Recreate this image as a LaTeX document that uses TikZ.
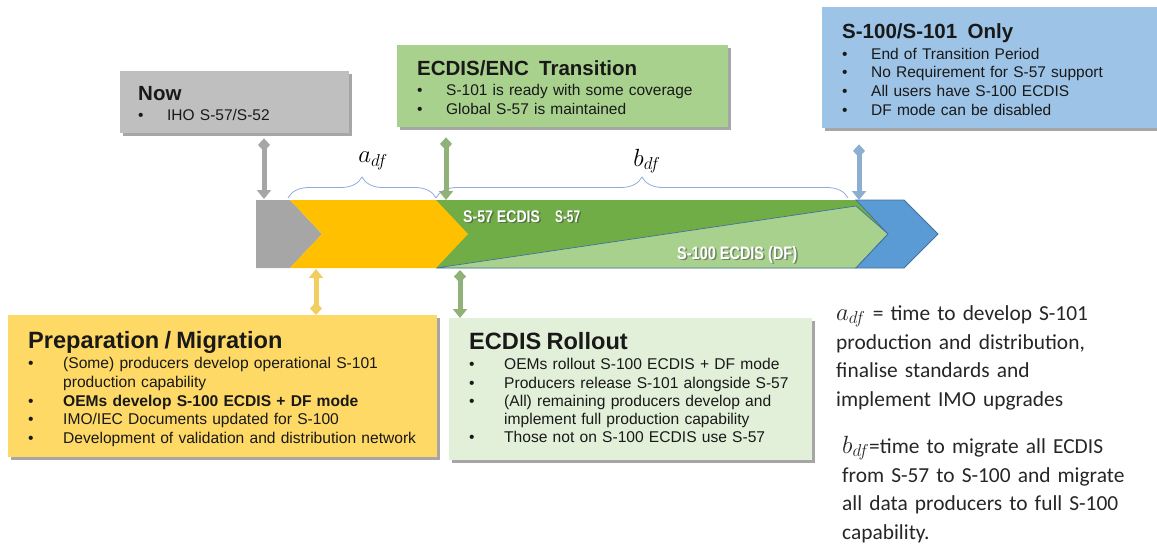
\documentclass[tikz,border=0pt]{standalone}
\usepackage{fontspec}
\usepackage{graphicx}
\setmainfont{Liberation Sans}
\newfontfamily\calibfont{Carlito}
\usetikzlibrary{arrows.meta,shadows,decorations.pathreplacing}

\definecolor{nowgrey}{HTML}{BFBFBF}
\definecolor{bargrey}{HTML}{A6A6A6}
\definecolor{prepyellow}{HTML}{FFD966}
\definecolor{baryellow}{HTML}{FFC000}
\definecolor{transgreen}{HTML}{A9D18E}
\definecolor{bargreen}{HTML}{70AD47}
\definecolor{rollgreen}{HTML}{E2F0D9}
\definecolor{onlyblue}{HTML}{9DC3E6}
\definecolor{barblue}{HTML}{5B9BD5}
\definecolor{blueline}{HTML}{41719C}
\definecolor{bracecol}{HTML}{8FAADC}

\newcommand{\bul}[1][29pt]{\makebox[#1][l]{\textbullet}}
\newcommand{\phtitle}[2][20.5]{{\bfseries\fontsize{#1}{19}\selectfont\rule{0pt}{18pt}#2}}
\newcommand{\bigmath}[1]{{\fontsize{25}{28}\selectfont$#1$}}

\tikzset{
  phasebox/.style={rectangle, anchor=north west, inner sep=0pt,
    drop shadow={shadow xshift=3pt, shadow yshift=-3pt, fill=black, opacity=0.35}},
  phasetext/.style={anchor=north west, inner sep=0pt, align=left, text width=#1, text=black!90},
  linkarrow/.style={line width=5pt, {Diamond[length=13pt,width=12pt]}-{Triangle[length=9pt,width=14pt]}},
  bartext/.style={anchor=base west, inner sep=0pt, text=white, font=\bfseries\fontsize{16.8}{17}\selectfont},
  barshadow/.style={bartext, text=black!75, opacity=0.55},
  timebrace/.style={draw=bracecol, line width=0.8pt, decorate, decoration={brace, amplitude=21pt}},
  notetext/.style={anchor=north west, inner sep=0pt, align=left, text width=330pt, text=black!85,
    font=\calibfont\fontsize{21.4}{28.8}\selectfont}
}

\begin{document}
\begin{tikzpicture}[x=1pt, y=-1pt]
  \useasboundingbox (0,0) rectangle (1157,544);

  % phase boxes
  \node[phasebox, fill=nowgrey, minimum width=229pt, minimum height=62pt] (now) at (120,71) {};
  \node[phasebox, fill=transgreen, minimum width=331pt, minimum height=82pt] (trans) at (397,45) {};
  \node[phasebox, fill=onlyblue, minimum width=335pt, minimum height=121pt] (only) at (822,7) {};
  \node[phasebox, fill=prepyellow, minimum width=429pt, minimum height=142pt] (prep) at (8,315) {};
  \node[phasebox, fill=rollgreen, minimum width=363pt, minimum height=142pt] (roll) at (449,318) {};

  \node[phasetext=200pt, font=\fontsize{15.5}{19}\selectfont] (nowtxt) at (138,82.5)
    {\phtitle{Now}\\[1pt]
     \bul IHO S-57/S-52};
  \node[phasetext=300pt, font=\fontsize{15.5}{19}\selectfont] (transtxt) at (417,57.5)
    {\phtitle{ECDIS/ENC\ \ Transition}\\[1pt]
     \bul S-101 is ready with some coverage\\
     \bul Global S-57 is maintained};
  \node[phasetext=310pt, font=\fontsize{15.5}{18.8}\selectfont] (onlytxt) at (842,20.5)
    {\phtitle{S-100/S-101\ \ Only}\\[1.5pt]
     \bul End of Transition Period\\
     \bul No Requirement for S-57 support\\
     \bul All users have S-100 ECDIS\\
     \bul DF mode can be disabled};
  \node[phasetext=410pt, font=\fontsize{15.6}{18.6}\selectfont] (preptxt) at (28,330.5)
    {\phtitle[23.6]{Preparation / Migration}\\[1.5pt]
     \bul[35pt](Some) producers develop operational S-101\\
     \hspace*{35pt}production capability\\
     \bul[35pt]\textbf{OEMs develop S-100 ECDIS + DF mode}\\
     \bul[35pt]IMO/IEC Documents updated for S-100\\
     \bul[35pt]Development of validation and distribution network};
  \node[phasetext=340pt, font=\fontsize{15.6}{18.2}\selectfont] (rolltxt) at (469,331.5)
    {\phtitle[23.6]{ECDIS Rollout}\\[2pt]
     \bul[35pt]OEMs rollout S-100 ECDIS + DF mode\\
     \bul[35pt]Producers release S-101 alongside S-57\\
     \bul[35pt](All) remaining producers develop and\\
     \hspace*{35pt}implement full production capability\\
     \bul[35pt]Those not on S-100 ECDIS use S-57};

  % timeline bar
  \fill[bargreen] (436,200) -- (856,200) -- (888,234) -- (856,268) -- (436,268) -- cycle;
  \filldraw[fill=transgreen, draw=blueline, line width=0.7pt] (436,268) -- (856,206) -- (888,234) -- (856,268) -- cycle;
  \fill[bargrey] (256,200) -- (290,200) -- (322,234) -- (290,268) -- (256,268) -- cycle;
  \fill[baryellow] (290,200) -- (436,200) -- (468,234) -- (436,268) -- (290,268) -- (322,234) -- cycle;
  \filldraw[fill=barblue, draw=blueline, line width=0.8pt] (856,200) -- (904,200) -- (938,234) -- (904,268) -- (856,268) -- (888,234) -- cycle;

  \node[barshadow] at (464.5,223.5) {\scalebox{0.84}[1]{S-57 ECDIS}};
  \node[bartext] (s57ecdis) at (463,222) {\scalebox{0.84}[1]{S-57 ECDIS}};
  \node[barshadow] at (556.5,223.5) {\scalebox{0.7}[1]{S-57}};
  \node[bartext] (s57) at (555,222) {\scalebox{0.7}[1]{S-57}};
  \node[barshadow, font=\bfseries\fontsize{18}{18}\selectfont] at (678.5,260.5) {\scalebox{0.805}[1]{S-100 ECDIS (DF)}};
  \node[bartext, font=\bfseries\fontsize{18}{18}\selectfont] (s100ecdis) at (677,259) {\scalebox{0.805}[1]{S-100 ECDIS (DF)}};

  % braces
  \draw[timebrace] (288,198) -- (436,198);
  \draw[timebrace] (436,198) -- (848,198);
  \node[font=\fontsize{26}{28}\selectfont] (adf) at (373,161) {$a_{df}$};
  \node[font=\fontsize{26}{28}\selectfont] (bdf) at (647,161) {$b_{df}$};

  % links between boxes and bar
  \coordinate (nowfoot) at (264,199);
  \coordinate (transfoot) at (446,200);
  \coordinate (onlyfoot) at (859,200);
  \coordinate (prepfoot) at (316,269);
  \coordinate (rollfoot) at (460,270);
  \draw[linkarrow, draw=bargrey] ([yshift=-5pt]now.south -| nowfoot) -- (nowfoot);
  \draw[linkarrow, draw=transgreen!85!black] ([yshift=-10pt]trans.south -| transfoot) -- (transfoot);
  \draw[linkarrow, draw=onlyblue!90!black] ([yshift=-16pt]only.south -| onlyfoot) -- (onlyfoot);
  \draw[linkarrow, draw=prepyellow!95!black] (prep.north -| prepfoot) -- (prepfoot);
  \draw[linkarrow, draw=transgreen!85!black] (rollfoot) -- (roll.north -| rollfoot);

  % notes
  \node[notetext] (adfnote) at (836,302)
    {\rule{0pt}{18pt}\bigmath{a_{df}} = time to develop S-101\\
     production and distribution,\\
     finalise standards and\\
     implement IMO upgrades};
  \node[notetext] (bdfnote) at (842,435)
    {\rule{0pt}{18pt}\bigmath{b_{df}}=time to migrate all ECDIS\\
     from S-57 to S-100 and migrate\\
     all data producers to full S-100\\
     capability.};
\end{tikzpicture}
\end{document}
